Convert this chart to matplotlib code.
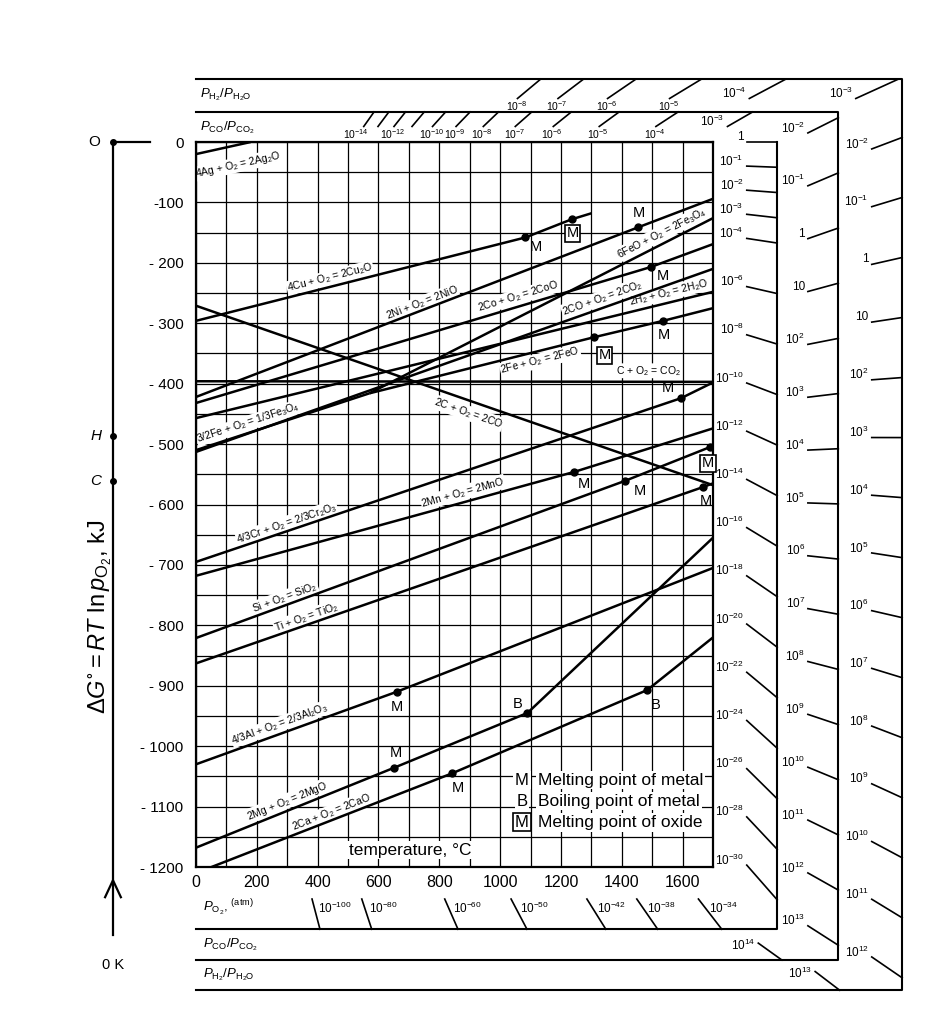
import numpy as np
import matplotlib
matplotlib.use('Agg')
import matplotlib.pyplot as plt

plt.rcParams['font.family'] = ['Liberation Sans', 'DejaVu Sans']
plt.rcParams['mathtext.fontset'] = 'custom'
plt.rcParams['mathtext.rm'] = 'Liberation Sans'
plt.rcParams['mathtext.it'] = 'Liberation Sans:italic'
plt.rcParams['mathtext.default'] = 'regular'

# --- Ellingham lines: temperature (deg C) and dG (kJ per mol O2) at the bends
ag_T = [0, 180];                 ag_G = [-20, 0]
cu_T = [0, 1083, 1235, 1300];    cu_G = [-296, -158, -128, -118]
ni_T = [0, 1455, 1700];          ni_G = [-422, -141, -94]
co_T = [0, 1495, 1700];          co_G = [-432, -207, -169]
feo_fe3o4_T = [570, 1700];       feo_fe3o4_G = [-416, -126]
co_co2_T = [0, 1700];            co_co2_G = [-513, -210]
h2o_T = [0, 1700];               h2o_G = [-457, -248]
feo_T = [570, 1310, 1536, 1700]; feo_G = [-416, -323, -296, -275]
c_co2_T = [0, 1700];             c_co2_G = [-396, -397]
c_co_T = [0, 1700];              c_co_G = [-271, -568]
fe_fe3o4_T = [0, 570];           fe_fe3o4_G = [-510, -416]
cr_T = [0, 1595, 1700];          cr_G = [-695, -424, -398]
mn_T = [0, 1244, 1700];          mn_G = [-718, -546, -474]
si_T = [0, 1410, 1690];          si_G = [-821, -561, -505]
ti_T = [0, 1668, 1700];          ti_G = [-863, -571, -565]
al_T = [0, 660, 1700];           al_G = [-1030, -910, -705]
mg_T = [0, 650, 1090, 1700];     mg_G = [-1168, -1036, -945, -655]
ca_T = [0, 842, 1484, 1700];     ca_G = [-1210, -1045, -907, -820]

# transition points
metal_melt_T = [1083, 1455, 1495, 1536, 1595, 1244, 1410, 1668, 660, 650, 842]
metal_melt_G = [-158, -141, -207, -296, -424, -546, -561, -571, -910, -1036, -1045]
oxide_melt_T = [1235, 1310, 1690]
oxide_melt_G = [-128, -323, -505]
metal_boil_T = [1090, 1484]
metal_boil_G = [-945, -907]

# nomographic scales (exponents of ten)
po2_right = [0, -1, -2, -3, -4, -6, -8, -10, -12, -14, -16, -18, -20, -22, -24, -26, -28, -30]
po2_bottom = [-34, -38, -42, -50, -60, -80, -100]
co_top = [-14, -13, -12, -11, -10, -9, -8, -7, -6, -5, -4, -3]
co_right = [-2, -1, 0, 1, 2, 3, 4, 5, 6, 7, 8, 9, 10, 11, 12, 13]
co_bottom = [14]
h2_top = [-8, -7, -6, -5, -4, -3]
h2_right = [-2, -1, 0, 1, 2, 3, 4, 5, 6, 7, 8, 9, 10, 11, 12]
h2_bottom = [13]
unlabelled = [-13, -11]

xtick_labels = ['0', '200', '400', '600', '800', '1000', '1200', '1400', '1600']
ytick_labels = ['0', '-100', '- 200', '- 300', '- 400', '- 500', '- 600', '- 700',
                '- 800', '- 900', '- 1000', '- 1100', '- 1200']

fig = plt.figure(figsize=(9.34, 10.24), dpi=100)
ax = fig.add_axes([196 / 934, 1 - 867 / 1024, 517 / 934, 725 / 1024])
ax.set_xlim(0, 1700)
ax.set_ylim(-1200, 0)

ax.set_xticks(np.arange(0, 1601, 200))
ax.set_xticklabels(xtick_labels, fontsize=11.5)
ax.set_xticks(np.arange(0, 1701, 100), minor=True)
ax.set_yticks(np.arange(0, -1201, -100))
ax.set_yticklabels(ytick_labels, fontsize=11)
ax.set_yticks(np.arange(0, -1201, -50), minor=True)
ax.tick_params(which='both', length=0)
ax.tick_params(axis='y', pad=9)
ax.tick_params(axis='x', pad=6)
ax.grid(which='both', color='k', lw=0.9, zorder=1)
ax.set_axisbelow(True)
for sp in ax.spines.values():
    sp.set_linewidth(1.6)

lines = [(ag_T, ag_G), (cu_T, cu_G), (ni_T, ni_G), (co_T, co_G),
         (feo_fe3o4_T, feo_fe3o4_G), (co_co2_T, co_co2_G), (h2o_T, h2o_G),
         (feo_T, feo_G), (c_co2_T, c_co2_G), (c_co_T, c_co_G),
         (fe_fe3o4_T, fe_fe3o4_G), (cr_T, cr_G), (mn_T, mn_G), (si_T, si_G),
         (ti_T, ti_G), (al_T, al_G), (mg_T, mg_G), (ca_T, ca_G)]
for T, G in lines:
    ax.plot(T, G, color='k', lw=1.8, zorder=3, solid_capstyle='butt')

# reaction labels: text, line, temperature of label centre, pixels above the line
rx_labels = [
    ('4Ag + O$_2$ = 2Ag$_2$O', ag_T, ag_G, 138, -20),
    ('4Cu + O$_2$ = 2Cu$_2$O', cu_T, cu_G, 441, 9),
    ('2Ni + O$_2$ = 2NiO', ni_T, ni_G, 743, 7),
    ('2Co + O$_2$ = 2CoO', co_T, co_G, 1059, 10),
    ('6FeO + O$_2$ = 2Fe$_3$O$_4$', feo_fe3o4_T, feo_fe3o4_G, 1533, 11),
    ('2CO + O$_2$ = 2CO$_2$', co_co2_T, co_co2_G, 1336, 10),
    ('2H$_2$ + O$_2$ = 2H$_2$O', h2o_T, h2o_G, 1556, 10),
    ('2Fe + O$_2$ = 2FeO', feo_T, feo_G, 1132, -10),
    ('C + O$_2$ = CO$_2$', c_co2_T, c_co2_G, 1487, 11),
    ('2C + O$_2$ = 2CO', c_co_T, c_co_G, 895, -13),
    ('3/2Fe + O$_2$ = 1/3Fe$_3$O$_4$', fe_fe3o4_T, fe_fe3o4_G, 171, 10),
    ('4/3Cr + O$_2$ = 2/3Cr$_2$O$_3$', cr_T, cr_G, 299, 8),
    ('2Mn + O$_2$ = 2MnO', mn_T, mn_G, 878, 10),
    ('Si + O$_2$ = SiO$_2$', si_T, si_G, 293, 8),
    ('Ti + O$_2$ = TiO$_2$', ti_T, ti_G, 362, 8),
    ('4/3Al + O$_2$ = 2/3Al$_2$O$_3$', al_T, al_G, 276, 10),
    ('2Mg + O$_2$ = 2MgO', mg_T, mg_G, 299, 10),
    ('2Ca + O$_2$ = 2CaO', ca_T, ca_G, 447, 8),
]
for txt, T, G, tc, off in rx_labels:
    g = np.interp(tc, T, G)
    p1 = ax.transData.transform((tc - 30, np.interp(tc - 30, T, G)))
    p2 = ax.transData.transform((tc + 30, np.interp(tc + 30, T, G)))
    ang = np.degrees(np.arctan2(p2[1] - p1[1], p2[0] - p1[0]))
    ax.annotate(txt, (tc, g), xytext=(0, off), textcoords='offset pixels',
                ha='center', va='center', rotation=ang, rotation_mode='anchor',
                fontsize=7.5, zorder=2,
                bbox=dict(boxstyle='square,pad=0.05', fc='white', ec='none'))

# transition markers
ax.plot(metal_melt_T, metal_melt_G, 'o', color='k', ms=5, zorder=4)
ax.plot(oxide_melt_T, oxide_melt_G, 'o', color='k', ms=5, zorder=4)
ax.plot(metal_boil_T, metal_boil_G, 'o', color='k', ms=5, zorder=4, clip_on=False)
mm_off = [(11, -10), (0, 14), (12, -9), (1, -14), (-13, 10), (10, -12),
          (15, -10), (3, -14), (0, -15), (2, 15), (6, -15)]
for T, G, (dx, dy) in zip(metal_melt_T, metal_melt_G, mm_off):
    ax.annotate('M', (T, G), xytext=(dx, dy), textcoords='offset pixels',
                ha='center', va='center', fontsize=10.5, zorder=5, annotation_clip=False)
om_off = [(1, -14), (10, -18), (-2, -16)]
for T, G, (dx, dy) in zip(oxide_melt_T, oxide_melt_G, om_off):
    ax.annotate('M', (T, G), xytext=(dx, dy), textcoords='offset pixels',
                ha='center', va='center', fontsize=10.5, zorder=5, annotation_clip=False,
                bbox=dict(boxstyle='square,pad=0.1', fc='white', ec='k', lw=1.2))
mb_off = [(-10, 9), (8, -15)]
for T, G, (dx, dy) in zip(metal_boil_T, metal_boil_G, mb_off):
    ax.annotate('B', (T, G), xytext=(dx, dy), textcoords='offset pixels',
                ha='center', va='center', fontsize=10.5, zorder=5, annotation_clip=False)

# legend and axis caption
wb = dict(boxstyle='square,pad=0.1', fc='white', ec='none')
leg_rows = [('M', 'Melting point of metal', -1056), ('B', 'Boiling point of metal', -1091),
            ('M', 'Melting point of oxide', -1126)]
for i, (sym, desc, g) in enumerate(leg_rows):
    box = dict(boxstyle='square,pad=0.1', fc='white', ec='k', lw=1.2) if i == 2 else wb
    ax.text(1072, g, sym, ha='center', va='center', fontsize=12, bbox=box, zorder=5)
    ax.text(1125, g, desc, ha='left', va='center', fontsize=12.5, bbox=wb, zorder=5)
ax.text(704, -1172, 'temperature, \u00b0C', ha='center', va='center', fontsize=12.5,
        bbox=wb, zorder=5)

# ---- nomographic scales
RL = 8.314e-3 * np.log(10)
frame_kw = dict(color='k', lw=1.5, clip_on=False)
ax.plot([0, 1911, 1911], [-1303, -1303, 0], **frame_kw)
ax.plot([0, 2112, 2112, 0], [49.7, 49.7, -1354, -1354], **frame_kw)
ax.plot([0, 2322, 2322, 0], [104, 104, -1404, -1404], **frame_kw)


def lab(m):
    if m == 0:
        return '1'
    if m == 1:
        return '10'
    return '10$^{%d}$' % m


def scale(exps, G0, s_of, side, Tr, Gb, Gt, dG, left_set=()):
    for m in exps:
        s = s_of(m)
        if side == 'right':
            T1, T2 = Tr - 100, Tr
            G1, G2 = G0 + s * (T1 + 273), G0 + s * (T2 + 273)
        else:
            G2 = Gt if side == 'top' else Gb
            G1 = G2 - dG if side == 'top' else G2 + dG
            T1, T2 = (G1 - G0) / s - 273, (G2 - G0) / s - 273
        ax.plot([T1, T2], [G1, G2], color='k', lw=1.2, clip_on=False)
        if m in unlabelled:
            continue
        kw = dict(textcoords='offset pixels', fontsize=8.5, annotation_clip=False)
        if side == 'right' or m in left_set:
            ax.annotate(lab(m), (T1, G1), xytext=(-3, 5), ha='right', va='center', **kw)
        elif side == 'top':
            kw['fontsize'] = 7.5
            dx = -8 if m == -14 else -1
            ax.annotate(lab(m), (T1, G1), xytext=(dx, -1), ha='center', va='top', **kw)
        elif side == 'bottom' and G0 == 0:
            ax.annotate(lab(m), (T1 + 0.3 * (T2 - T1), G1 + 0.3 * (G2 - G1)),
                        xytext=(4, 0), ha='left', va='center', **kw)
        else:
            ax.annotate(lab(m), (T1, G1), xytext=(-3, -2), ha='right', va='center', **kw)


scale(po2_right, 0.0, lambda m: RL * m, 'right', 1911, -1303, 0, 50)
scale(po2_bottom, 0.0, lambda m: RL * m, 'bottom', 1911, -1303, 0, 50)
co_s = lambda m: 0.1755 - 2 * RL * m
scale(co_top, -561.0, co_s, 'top', 2112, -1354, 49.7, 24, left_set=(-3,))
scale(co_right, -561.0, co_s, 'right', 2112, -1354, 49.7, 24)
scale(co_bottom, -561.0, co_s, 'bottom', 2112, -1354, 49.7, 28)
h2_s = lambda m: 0.114 - 2 * RL * m
scale(h2_top, -487.0, h2_s, 'top', 2322, -1404, 104, 32, left_set=(-4, -3))
scale(h2_right, -487.0, h2_s, 'right', 2322, -1404, 104, 32)
scale(h2_bottom, -487.0, h2_s, 'bottom', 2322, -1404, 104, 31)

sc_kw = dict(ha='left', va='center', fontsize=9.5)
ax.text(13, 78, r'$\mathit{P}_{H_2}/\mathit{P}_{H_2O}$', **sc_kw)
ax.text(13, 23, r'$\mathit{P}_{CO}/\mathit{P}_{CO_2}$', **sc_kw)
ax.text(23, -1268, r'$\mathit{P}_{O_2}$, $^{(atm)}$', **sc_kw)
ax.text(23, -1329, r'$\mathit{P}_{CO}/\mathit{P}_{CO_2}$', **sc_kw)
ax.text(23, -1379, r'$\mathit{P}_{H_2}/\mathit{P}_{H_2O}$', **sc_kw)

# ---- 0 K axis on the left
T0K = -273
ax.plot([T0K, T0K], [0, -1313], color='k', lw=1.6, clip_on=False)
ax.plot([T0K, -151], [0, 0], color='k', lw=1.6, clip_on=False)
ax.plot([T0K, T0K, T0K], [0, -487, -561], 'o', color='k', ms=4, clip_on=False)
ax.plot([T0K - 26, T0K, T0K + 26], [-1250, -1222, -1250], color='k', lw=1.6, clip_on=False)
ax.text(-335, 0, 'O', ha='center', va='center', fontsize=11)
ax.text(-330, -487, 'H', ha='center', va='center', fontsize=11, style='italic')
ax.text(-330, -561, 'C', ha='center', va='center', fontsize=11, style='italic')
ax.text(T0K, -1363, '0 K', ha='center', va='center', fontsize=10.5)
ax.text(-316, -786, r'$\mathit{\Delta G}^{\circ} = \mathit{RT}\ \ln \mathit{p}_{O_2}$, kJ',
        rotation=90, ha='center', va='center', fontsize=17)

fig.savefig('out.png', dpi=100, facecolor='white')
